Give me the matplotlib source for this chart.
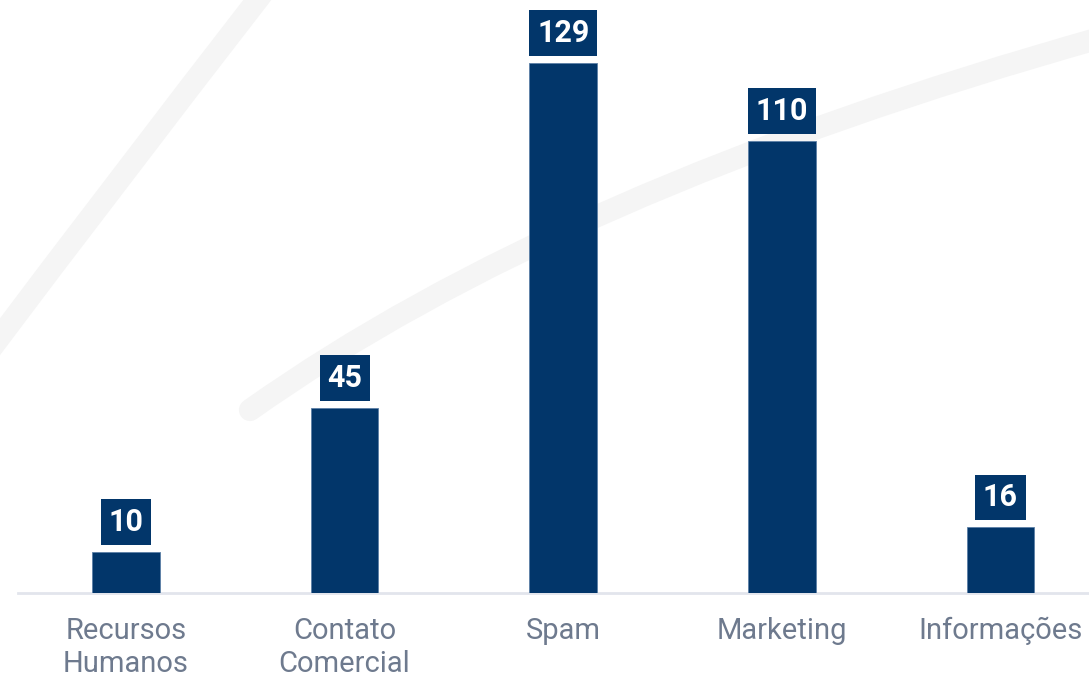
import matplotlib.pyplot as plt
from matplotlib.path import Path
from matplotlib.patches import PathPatch

categories = ["Recursos\nHumanos", "Contato\nComercial", "Spam", "Marketing", "Informações"]
values = [10, 45, 129, 110, 16]

bar_color = "#02366A"
label_color = "#6E7A8E"

W, H = 1089, 677
fig = plt.figure(figsize=(W / 100, H / 100), dpi=100)
fig.patch.set_facecolor("white")


def px(x, y):
    return (x / W, 1 - y / H)


# faint brush strokes in the background
strokes = [
    [(-10, 350), (110, 190), (265, -10)],
    [(250, 410), (560, 190), (1100, 38)],
]
for pts in strokes:
    verts = [px(*p) for p in pts]
    path = Path(verts, [Path.MOVETO, Path.CURVE3, Path.CURVE3])
    fig.add_artist(PathPatch(path, facecolor="none", edgecolor="#F5F5F5",
                             lw=16, capstyle="round", transform=fig.transFigure,
                             zorder=0))

ax = fig.add_axes([18 / W, (H - 593) / H, 1 - 18 / W, 593 / H])
ax.set_facecolor("none")
x = range(len(categories))
ax.bar(x, values, width=0.31, color=bar_color, edgecolor="#5B7FA6",
       linewidth=0.6, zorder=3)

for i, v in zip(x, values):
    ax.annotate(str(v), (i, v), xytext=(0, 30), textcoords="offset pixels",
                ha="center", va="center", color="white", fontsize=22,
                fontweight="bold", family="Roboto", zorder=4,
                bbox=dict(boxstyle="square,pad=0.25", fc=bar_color, ec="none"))

ax.set_xlim(-0.494, 4.405)
ax.set_ylim(0, 144.3)
ax.set_xticks(list(x))
ax.set_xticklabels(categories, fontsize=21, color=label_color, family="Roboto",
                   linespacing=1.26)
ax.tick_params(axis="x", length=0, pad=17)
ax.set_yticks([])
for s in ["top", "right", "left"]:
    ax.spines[s].set_visible(False)
ax.spines["bottom"].set_color("#E2E5EC")
ax.spines["bottom"].set_linewidth(2)

fig.savefig("out.png", dpi=100)
